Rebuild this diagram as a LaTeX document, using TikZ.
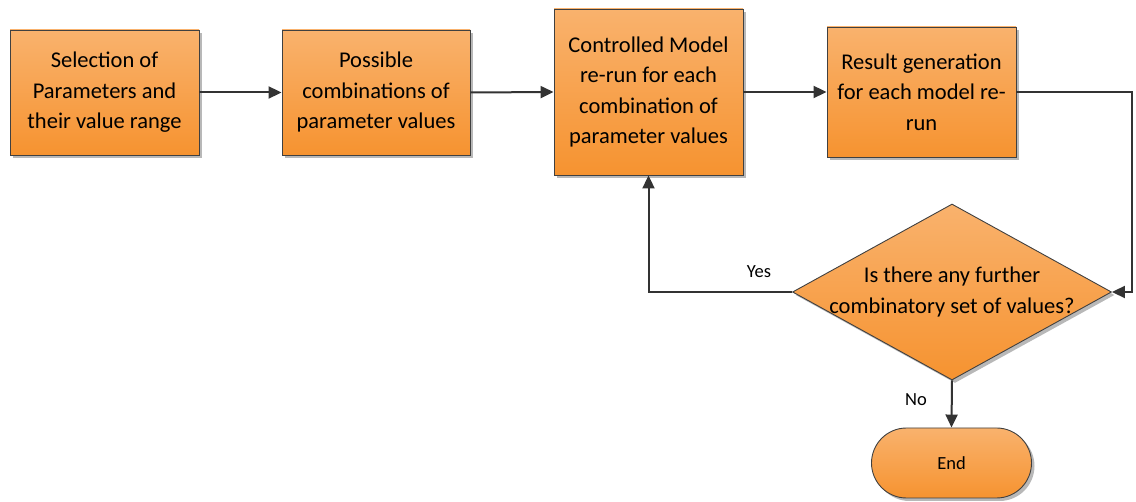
\documentclass[tikz,border=0pt]{standalone}
\usepackage{fontspec}
\setmainfont{Carlito}
\usetikzlibrary{shapes.geometric,arrows.meta,shadows}

\definecolor{orangetop}{HTML}{F9B26D}
\definecolor{orangebot}{HTML}{F69330}
\definecolor{edgegrey}{HTML}{404040}
\definecolor{linegrey}{HTML}{333333}

\tikzset{
  shade box/.style={top color=orangetop, bottom color=orangebot,
    draw=edgegrey, line width=0.9pt,
    drop shadow={shadow xshift=3pt, shadow yshift=-3pt, fill=black!35, opacity=0.8}},
  procbox/.style={shade box, rectangle, inner sep=0pt, align=center,
    font=\fontsize{22.5}{30.5}\selectfont},
  decision/.style={shade box, diamond, inner sep=0pt,
    minimum width=319pt, minimum height=176pt, aspect=1.81},
  decisiontext/.style={align=center, inner sep=0pt,
    font=\fontsize{22.5}{31}\selectfont},
  terminal/.style={shade box, rectangle, rounded corners=35pt, inner sep=0pt,
    minimum width=160pt, minimum height=70pt, font=\fontsize{18.5}{22}\selectfont},
  flow/.style={draw=linegrey, line width=2pt, -{Triangle[length=13pt,width=12pt]}},
  smalllabel/.style={font=\fontsize{18.5}{22}\selectfont, inner sep=0pt},
}

\begin{document}
\begin{tikzpicture}[x=1pt, y=-1pt]
  \useasboundingbox (0,0) rectangle (1136,502);

  \node[procbox, minimum width=189pt, minimum height=125pt] (sel) at (104.5,92.5)
    {Selection of\\Parameters and\\their value range};
  \node[procbox, minimum width=188pt, minimum height=125pt] (comb) at (376,92.5)
    {Possible\\combinations of\\parameter values};
  \node[procbox, minimum width=189pt, minimum height=166pt] (rerun) at (648.5,92)
    {Controlled Model\\re-run for each\\combination of\\parameter values};
  \node[procbox, minimum width=189pt, minimum height=130pt] (result) at (921.5,92)
    {Result generation\\for each model re-\\run};
  \node[decision] (more) at (952,292) {};
  \node[decisiontext] (moretext) at (more.center)
    {Is there any further\\combinatory set of values?};
  \node[terminal] (end) at (951.5,463) {End};

  \coordinate (loop) at (1132,92);

  \draw[flow] (sel.east) -- (comb.west);
  \draw[flow] (comb.east) -- (rerun.west);
  \draw[flow] (rerun.east) -- (result.west);
  \draw[flow] (result.east) -- (loop) |- (more.east);
  \draw[flow] (more.west) -| (rerun.south);
  \draw[flow] (more.south) -- (end.north);

  \node[smalllabel] (yes) at (759,272) {Yes};
  \node[smalllabel] (no) at (916,400) {No};
\end{tikzpicture}
\end{document}
